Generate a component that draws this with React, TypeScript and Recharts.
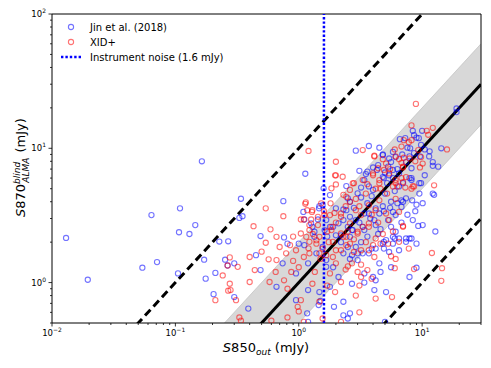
import React from "react";
import {
  ComposedChart,
  Scatter,
  Line,
  Area,
  XAxis,
  YAxis,
  ReferenceLine,
  ReferenceArea,
} from "recharts";

// S850_out vs S870 blind (mJy)
const jinPoints: [number, number][] = [
  [0.013, 2.15], [0.0195, 1.05], [0.064, 3.18], [0.109, 3.57], [0.107, 2.37], [0.13, 2.3], [0.145, 2.68],
  [0.054, 1.29], [0.071, 1.42], [0.105, 1.17], [0.227, 2.02], [0.268, 2.03], [0.171, 1.48], [0.253, 1.48],
  [0.265, 1.34], [0.176, 1.07], [0.211, 1.18], [0.204, 0.82], [0.164, 8.0],
  [19.0, 19.8], [19.0, 18.6], [8.4, 13.5], [10.0, 13.5], [8.6, 12.5], [9.4, 11.9], [6.6, 11.7], [4.5, 10.1],
  [14.3, 10.0], [7.6, 10.1], [10.5, 9.8], [4.8, 9.0], [5.4, 8.4], [6.1, 8.6], [7.9, 8.7], [9.6, 8.7],
  [11.4, 8.7], [12.2, 7.9], [12.2, 7.4], [5.3, 7.3], [4.0, 7.2], [8.2, 7.1], [8.2, 6.0], [4.9, 6.0],
  [5.4, 6.3], [9.8, 5.5],
  [1.09, 3.36], [1.56, 3.77], [1.79, 4.48], [2.43, 5.23], [3.0, 4.62], [3.5, 6.43], [3.7, 5.2], [4.8, 6.1],
  [5.8, 6.0], [6.5, 5.2], [7.4, 4.24], [6.8, 3.66], [5.6, 4.0], [4.2, 3.57], [3.4, 3.27], [2.6, 3.09],
  [2.1, 2.76], [1.67, 2.92], [1.34, 2.39], [1.11, 1.9], [1.56, 1.84], [2.2, 2.25], [2.74, 2.46], [3.3, 2.6],
  [4.1, 2.92], [4.5, 3.27], [5.3, 2.92], [6.1, 3.18], [5.8, 2.19], [4.8, 1.95], [3.9, 1.79], [2.9, 1.84],
  [2.3, 1.65], [1.39, 1.65], [6.5, 1.74], [6.1, 2.39], [7.4, 2.01],
  [7.4, 2.13], [8.2, 2.13], [9.0, 1.95], [5.8, 1.95], [4.9, 2.01], [4.9, 1.79], [4.2, 1.79], [3.7, 1.65],
  [4.5, 1.39], [5.4, 1.69], [9.0, 1.29], [7.9, 1.1], [4.2, 1.04], [4.0, 1.1], [3.4, 1.17], [3.4, 1.0],
  [2.7, 0.98], [4.1, 0.88], [5.1, 0.85], [2.3, 0.72], [2.3, 0.57], [2.5, 0.54], [5.0, 0.51], [2.7, 1.6],
  [3.0, 1.47],
  [0.49, 2.22], [0.76, 2.17], [0.81, 1.95], [0.45, 1.6], [0.3, 1.39], [0.49, 1.24], [0.74, 1.39], [1.0, 1.95],
  [1.29, 2.6], [1.19, 1.39], [0.95, 1.17], [0.66, 0.93], [0.39, 0.64], [0.95, 0.74], [1.19, 0.88], [1.19, 0.51],
  [1.47, 0.85], [1.79, 0.93], [2.6, 0.59], [1.67, 1.31], [1.79, 2.6], [2.7, 2.46], [3.0, 1.65], [0.3, 0.78],
  [1.13, 6.46], [1.59, 5.03], [0.34, 4.21], [0.35, 3.12], [0.33, 3.03], [0.75, 4.04], [1.47, 3.71], [2.0, 3.57],
  [1.11, 2.95], [1.43, 2.95], [2.5, 4.24],
  [12.5, 4.5], [10.1, 3.9], [9.0, 3.8], [8.4, 2.92], [9.3, 2.64], [10.1, 2.68], [6.5, 2.13], [7.9, 6.0],
  [6.8, 4.1], [5.8, 3.36],
  [2.9, 9.6], [3.7, 10.4], [4.8, 8.9], [4.4, 7.5], [3.6, 6.7], [3.4, 5.8], [3.2, 5.1], [4.0, 4.9], [5.2, 5.5],
  [6.5, 6.5], [7.4, 7.9], [8.6, 9.2], [9.8, 10.6], [7.3, 11.9], [5.8, 9.4], [5.6, 7.9], [5.8, 6.9], [7.0, 5.5],
  [8.2, 5.8], [9.5, 5.5], [12.2, 4.6], [8.3, 4.1], [7.0, 4.0], [4.8, 3.7], [3.7, 3.27], [2.9, 2.92], [2.3, 2.92],
  [2.43, 3.46], [1.62, 2.46], [2.0, 2.25], [2.6, 2.19], [3.4, 2.46], [4.2, 2.68], [5.1, 2.07], [6.0, 2.13],
  [7.9, 2.13], [3.3, 1.65], [2.5, 1.84], [1.67, 1.47], [1.34, 2.19], [1.26, 2.76], [1.46, 3.57],
  [12.8, 2.4], [13.5, 7.3], [1.5, 0.73], [1.93, 0.66], [1.17, 0.59], [1.45, 0.68],
  [3.1, 6.8], [4.3, 6.9], [5.0, 6.6], [6.3, 7.0], [2.6, 4.0], [3.2, 4.3], [3.9, 4.4], [5.0, 4.6], [6.0, 4.8],
  [2.3, 3.5], [2.8, 3.6], [3.6, 3.9], [4.9, 3.4], [5.5, 3.6], [6.3, 3.9], [1.9, 2.6], [2.5, 2.6], [3.1, 2.8],
  [3.8, 3.0], [4.6, 2.5], [5.6, 2.6], [1.7, 2.2], [2.2, 2.0], [3.6, 2.2], [4.4, 2.3], [6.8, 2.8], [7.6, 3.2],
  [8.8, 3.4], [9.5, 4.6], [10.5, 6.3], [11.5, 9.5], [6.9, 9.0], [8.0, 10.0], [9.0, 12.0], [3.2, 2.0],
  [2.6, 1.5], [1.9, 1.3], [2.1, 1.1], [4.6, 1.2], [5.6, 1.3],
];

const xidPoints: [number, number][] = [
  [0.276, 1.54], [0.265, 1.34], [0.242, 1.13], [0.276, 0.98], [0.268, 0.87], [0.211, 0.74],
  [8.9, 21.4], [12.2, 14.2], [8.2, 14.8], [10.9, 13.5], [11.2, 12.6], [7.1, 11.5], [7.8, 11.1], [6.0, 9.8],
  [15.9, 9.8], [4.1, 8.7], [4.8, 8.3], [6.5, 8.3], [7.1, 8.5], [10.1, 7.7], [7.0, 7.2], [4.4, 7.1], [9.6, 7.2],
  [6.8, 6.0], [4.5, 5.8], [8.4, 5.2], [12.5, 5.3], [7.3, 5.1],
  [1.13, 3.86], [1.28, 3.36], [1.1, 2.95], [1.81, 3.89], [1.97, 6.29], [2.27, 6.14], [2.74, 5.48], [2.43, 4.35],
  [3.3, 5.8], [4.0, 6.3], [4.5, 5.5], [5.4, 6.5], [6.1, 5.5], [7.4, 6.1], [4.5, 4.1], [3.7, 3.77], [2.9, 3.46],
  [2.2, 3.09], [1.84, 2.6], [1.43, 2.68], [1.15, 2.19], [1.22, 2.01], [1.47, 2.19], [1.89, 2.01], [2.43, 2.19],
  [3.0, 2.32], [3.7, 2.76], [5.1, 3.27], [6.5, 2.01], [4.2, 2.13], [3.2, 1.74], [2.6, 1.95], [2.0, 1.74],
  [1.67, 1.6],
  [7.8, 1.79], [12.0, 1.66], [5.3, 1.95], [4.0, 1.9], [4.1, 1.55], [5.6, 1.57], [6.1, 1.5], [6.0, 1.28],
  [8.6, 1.26], [14.5, 1.28], [14.3, 1.03], [3.9, 1.07], [3.6, 1.24], [3.2, 1.1], [3.1, 0.95], [4.2, 0.76],
  [5.7, 0.78], [3.1, 0.6], [2.2, 0.51], [2.5, 1.32], [3.2, 1.36], [2.43, 1.9], [2.7, 1.39],
  [0.43, 2.63], [0.59, 2.49], [0.66, 2.19], [0.85, 1.9], [0.54, 1.98], [0.7, 1.84], [0.4, 1.55], [0.32, 1.31],
  [0.44, 1.24], [0.57, 1.49], [0.66, 1.47], [0.79, 1.65], [0.95, 1.74], [1.04, 2.32], [1.22, 1.65], [0.87, 1.2],
  [0.76, 1.04], [0.58, 1.01], [0.4, 1.01], [0.31, 0.74], [0.33, 0.55], [0.34, 0.52], [0.81, 0.9], [1.04, 0.74],
  [0.98, 0.66], [0.81, 0.55], [1.29, 0.98], [1.47, 0.72], [1.97, 0.85], [2.2, 1.01], [1.79, 1.17], [2.0, 1.39],
  [1.39, 2.07], [2.2, 2.32], [1.56, 1.79], [1.22, 2.68], [0.28, 0.88],
  [1.2, 9.55], [2.0, 7.94], [2.0, 6.29], [2.0, 5.38], [1.84, 5.03], [0.54, 3.57], [0.75, 3.12], [1.14, 3.96],
  [1.17, 3.46], [1.29, 3.46], [1.04, 2.95], [1.26, 2.95], [1.61, 3.18], [2.6, 3.99],
  [8.2, 5.0], [7.0, 2.64], [7.0, 5.6], [6.5, 3.36],
  [3.3, 9.7], [4.1, 8.8], [5.1, 7.7], [4.0, 6.5], [2.8, 5.5], [2.6, 4.9], [4.6, 5.0], [6.1, 5.8], [7.0, 7.3],
  [7.9, 8.4], [9.3, 9.7], [8.2, 11.5], [6.8, 10.3], [6.1, 8.7], [4.9, 6.9], [6.3, 5.2], [8.6, 5.2], [6.1, 4.2],
  [4.2, 3.46], [3.2, 3.18], [2.6, 2.76], [2.2, 3.27], [1.79, 3.18], [1.84, 2.46], [2.3, 2.19], [3.0, 2.39],
  [3.7, 2.6], [5.4, 2.92], [4.6, 1.95], [7.0, 2.6], [3.7, 1.74], [2.8, 1.69], [2.2, 1.74], [1.89, 1.55],
  [1.47, 1.65], [1.39, 1.95], [1.22, 2.46], [1.43, 3.09], [1.52, 3.89],
  [0.6, 0.52], [1.0, 0.61], [1.1, 0.51], [1.56, 0.54],
  [2.3, 4.5], [2.9, 4.2], [3.5, 4.6], [4.2, 5.0], [5.2, 4.6], [5.8, 5.2], [1.6, 3.4], [1.95, 3.3], [2.4, 3.7],
  [3.1, 3.7], [3.9, 3.2], [1.3, 2.3], [1.7, 2.4], [2.0, 2.8], [2.5, 2.4], [3.3, 2.6], [4.4, 2.8], [1.2, 1.8],
  [1.5, 1.5], [1.75, 2.0], [2.8, 2.1], [3.5, 2.0], [4.8, 2.3], [5.8, 2.4], [6.8, 7.8], [8.8, 8.0], [9.8, 8.6],
  [5.5, 7.0], [3.6, 5.4], [0.9, 1.45], [1.0, 1.3], [0.65, 1.2], [0.5, 1.7], [0.9, 2.2], [1.1, 1.55],
  [2.4, 1.25], [3.0, 1.2], [2.9, 0.8], [1.7, 0.95], [1.35, 1.2],
];

// reference lines: 1:1, x10 / x0.1, and the factor-2 band
const lineX = [0.01, 30];
const oneToOne = [0.01, 30];
const tenTimes = [0.1, 300];
const tenthOf = [0.001, 3];
const bandLow = [0.005, 15];
const bandHigh = [0.02, 60];
const noiseLevel = 1.6;

const xTicks = [
  0.01, 0.02, 0.03, 0.04, 0.05, 0.06, 0.07, 0.08, 0.09,
  0.1, 0.2, 0.3, 0.4, 0.5, 0.6, 0.7, 0.8, 0.9,
  1, 2, 3, 4, 5, 6, 7, 8, 9, 10, 20, 30,
];
const yTicks = [
  0.5, 0.6, 0.7, 0.8, 0.9, 1, 2, 3, 4, 5, 6, 7, 8, 9,
  10, 20, 30, 40, 50, 60, 70, 80, 90, 100,
];
const majorLabels: Record<string, string> = {
  "0.01": "\u22122",
  "0.1": "\u22121",
  "1": "0",
  "10": "1",
  "100": "2",
};

const lineData = lineX.map((x, i) => ({
  x,
  one: oneToOne[i],
  up: tenTimes[i],
  down: tenthOf[i],
  band: [bandLow[i], bandHigh[i]],
}));
const jinData = jinPoints.map(([x, y]) => ({ x, y }));
const xidData = xidPoints.map(([x, y]) => ({ x, y }));

const FONT = "DejaVu Sans, sans-serif";

const XTick = (props: any) => {
  const { x, y, payload } = props;
  const exp = majorLabels[String(payload.value)];
  const major = exp !== undefined;
  return (
    <g>
      <line x1={x} x2={x} y1={y} y2={y + (major ? 3.5 : 2)} stroke="#000" strokeWidth={0.8} />
      {major && (
        <text x={x} y={y + 13} textAnchor="middle" fontSize={8.5} fontFamily={FONT} fill="#000">
          <tspan>10</tspan>
          <tspan dy={-4} fontSize={6}>{exp}</tspan>
        </text>
      )}
    </g>
  );
};

const YTick = (props: any) => {
  const { x, y, payload } = props;
  const exp = majorLabels[String(payload.value)];
  const major = exp !== undefined;
  return (
    <g>
      <line x1={x} x2={x - (major ? 3.5 : 2)} y1={y} y2={y} stroke="#000" strokeWidth={0.8} />
      {major && (
        <text x={x - 6} y={y + 3} textAnchor="end" fontSize={8.5} fontFamily={FONT} fill="#000">
          <tspan>10</tspan>
          <tspan dy={-4} fontSize={6}>{exp}</tspan>
        </text>
      )}
    </g>
  );
};

const xLabel = () => (
  <text x={266} y={352} textAnchor="middle" fontSize={13} fontFamily={FONT} fill="#000">
    <tspan fontStyle="italic">S</tspan>
    <tspan>850</tspan>
    <tspan dy={3} fontSize={9} fontStyle="italic">out</tspan>
    <tspan dy={-3}> (mJy)</tspan>
  </text>
);

const yLabel = () => (
  <text transform="translate(25,217) rotate(-90)" fontSize={13} fontFamily={FONT} fill="#000">
    <tspan fontStyle="italic">S</tspan>
    <tspan>870</tspan>
    <tspan dy={-5} fontSize={9} fontStyle="italic">blind</tspan>
    <tspan dx={-21} dy={9} fontSize={9} fontStyle="italic">ALMA</tspan>
    <tspan dx={1} dy={-4}> (mJy)</tspan>
  </text>
);

const ring = (color: string) => (props: any) =>
  <circle cx={props.cx} cy={props.cy} r={2.6} fill="none" stroke={color} strokeOpacity={0.55} strokeWidth={1.1} />;

export default function App() {
  return (
    <div style={{ position: "absolute", left: 0, top: 0, width: 491, height: 368, background: "#fff" }}>
      <ComposedChart
        width={491}
        height={368}
        data={lineData}
        margin={{ top: 14, right: 10, bottom: 15, left: 12 }}
      >
        <XAxis
          dataKey="x"
          type="number"
          scale="log"
          domain={[0.01, 30]}
          allowDataOverflow
          ticks={xTicks}
          interval={0}
          tick={<XTick />}
          tickLine={false}
          tickSize={0}
          tickMargin={0}
          axisLine={false}
          height={30}
          label={xLabel}
        />
        <YAxis
          dataKey="y"
          type="number"
          scale="log"
          domain={[0.5, 100]}
          allowDataOverflow
          ticks={yTicks}
          interval={0}
          tick={<YTick />}
          tickLine={false}
          tickSize={0}
          tickMargin={0}
          axisLine={false}
          width={40}
          label={yLabel}
        />
        <Area
          dataKey="band"
          type="linear"
          fill="#d8d8d8"
          fillOpacity={1}
          stroke="#c4c4c4"
          strokeWidth={0.8}
          isAnimationActive={false}
        />
        <Scatter data={jinData} shape={ring("#0000ff")} isAnimationActive={false} />
        <Scatter data={xidData} shape={ring("#ff0000")} isAnimationActive={false} />
        <Line dataKey="one" type="linear" stroke="#000" strokeWidth={3} dot={false} isAnimationActive={false} />
        <Line dataKey="up" type="linear" stroke="#000" strokeWidth={3} strokeDasharray="8 4.5" dot={false} isAnimationActive={false} />
        <Line dataKey="down" type="linear" stroke="#000" strokeWidth={3} strokeDasharray="8 4.5" dot={false} isAnimationActive={false} />
        <ReferenceLine x={noiseLevel} stroke="#0000ff" strokeWidth={2.5} strokeDasharray="2.4 2" />
        <ReferenceArea x1={0.01} x2={30} y1={0.5} y2={100} fill="none" stroke="#000" strokeWidth={1} />
      </ComposedChart>
      <svg width={240} height={70} style={{ position: "absolute", left: 0, top: 0 }} fontFamily={FONT}>
        <circle cx={71} cy={27} r={2.6} fill="none" stroke="#0000ff" strokeOpacity={0.55} strokeWidth={1.1} />
        <text x={90} y={31} fontSize={10}>Jin et al. (2018)</text>
        <circle cx={71} cy={42} r={2.6} fill="none" stroke="#ff0000" strokeOpacity={0.55} strokeWidth={1.1} />
        <text x={90} y={46} fontSize={10}>XID+</text>
        <line x1={61} x2={81} y1={57} y2={57} stroke="#0000ff" strokeWidth={2.5} strokeDasharray="2.4 2" />
        <text x={90} y={61} fontSize={10}>Instrument noise (1.6 mJy)</text>
      </svg>
    </div>
  );
}
